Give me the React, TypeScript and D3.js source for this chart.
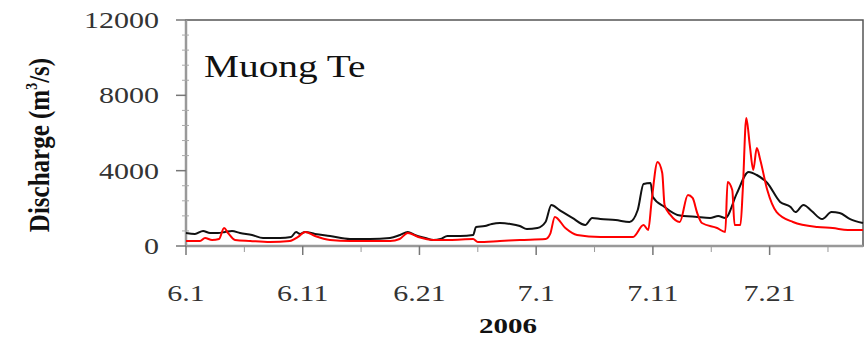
import React from "react";
import * as d3 from "d3";

// Observed (black) series: day offset from 6.1, discharge m3/s
const obsDays = [0, 0.77, 1.46, 2.06, 2.74, 3.34, 3.94, 4.63, 5.66, 6.6, 8.05, 9.0, 9.43, 9.77, 10.2, 11.05, 12.34, 14.05, 15.77, 17.48, 18.34, 19.0, 19.6, 20.5, 21.2, 21.8, 22.4, 23.5, 24.6, 24.85, 25.6, 26.2, 26.9, 27.8, 28.6, 29.2, 30.1, 30.8, 31.3, 32.0, 33.1, 34.2, 34.8, 35.5, 36.8, 38.0, 38.7, 39.2, 39.8, 40.0, 41.0, 42.1, 43.8, 44.9, 45.6, 46.2, 47.2, 48.2, 48.9, 49.8, 50.9, 51.8, 52.2, 52.9, 53.6, 54.5, 55.3, 56.0, 56.9, 58.0];
const obsValues = [690, 640, 800, 690, 690, 745, 800, 690, 585, 425, 425, 480, 745, 640, 745, 640, 530, 370, 370, 425, 585, 745, 585, 425, 320, 370, 530, 530, 585, 1010, 1060, 1170, 1220, 1170, 1060, 900, 955, 1275, 2180, 1910, 1490, 1115, 1490, 1430, 1380, 1275, 1910, 3290, 3345, 2600, 2070, 1650, 1540, 1490, 1590, 1490, 2810, 3930, 3770, 3345, 2340, 2070, 1800, 2180, 1860, 1430, 1800, 1750, 1430, 1220];

// Simulated (red) series
const simDays = [0, 1.2, 1.63, 2.23, 2.83, 3.26, 3.6, 4.2, 5.5, 7.2, 8.9, 9.6, 10.2, 11.05, 12.34, 14.05, 17.5, 18.3, 19.0, 19.9, 21.2, 22.6, 24.6, 25.0, 26.9, 28.6, 30.8, 31.2, 31.6, 32.5, 33.5, 35.5, 38.3, 39.2, 39.6, 39.9, 40.4, 40.8, 41.0, 41.5, 42.3, 43.0, 43.4, 43.8, 44.2, 45.5, 46.2, 46.4, 46.8, 47.0, 47.5, 47.7, 48.0, 48.3, 48.6, 48.9, 49.2, 49.8, 50.6, 52.0, 54.1, 55.4, 56.7, 58.0];
const simValues = [265, 265, 425, 320, 370, 955, 690, 320, 265, 210, 265, 480, 745, 530, 320, 265, 265, 370, 690, 480, 320, 320, 370, 210, 265, 320, 370, 640, 1540, 955, 585, 480, 480, 1115, 850, 2440, 4460, 3880, 2180, 1650, 1275, 2710, 2550, 1750, 1220, 955, 745, 3400, 2970, 1115, 1115, 2970, 6800, 5360, 4040, 5200, 4570, 2970, 1800, 1275, 1010, 955, 850, 850];

const xTickDays = [0, 10, 20, 30, 40, 50];
const xTickLabels = ["6.1", "6.11", "6.21", "7.1", "7.11", "7.21"];
const xMinorDays = [5, 15, 25, 35, 45, 55];
const yTicks = [0, 4000, 8000, 12000];

const FONT = "Liberation Serif, DejaVu Serif, serif";

export default function App() {
  const left = 186, right = 863, top = 20, bottom = 246;
  const x = d3.scaleLinear().domain([0, 58]).range([left, right]);
  const y = d3.scaleLinear().domain([0, 12000]).range([bottom, top]);
  const yMinor = d3.range(0, 12001, 800).filter((v) => v % 4000 !== 0);

  const obsLine = d3.line<number>().x((_, i) => x(obsDays[i])).y((d) => y(d)).curve(d3.curveMonotoneX);
  const simLine = d3.line<number>().x((_, i) => x(simDays[i])).y((d) => y(d)).curve(d3.curveMonotoneX);

  const sx = 1.25;
  const ts = { fontFamily: FONT };

  return (
    <svg width={867} height={337} style={{ position: "absolute", left: 0, top: 0 }}>
      <rect x={0} y={0} width={867} height={337} fill="#fff" />
      <rect x={left} y={top} width={right - left} height={bottom - top} fill="none" stroke="#555" strokeWidth={1.5} />
      <line x1={left} x2={right} y1={bottom} y2={bottom} stroke="#999" strokeWidth={2.5} />
      <line x1={left} x2={left} y1={top} y2={bottom} stroke="#999" strokeWidth={2.5} />
      {yTicks.map((v) => (
        <g key={v}>
          <line x1={left - 10} x2={left} y1={y(v)} y2={y(v)} stroke="#777" strokeWidth={1.5} />
          <text style={ts} transform={`translate(${left - 27},${y(v) + 8}) scale(${sx},1)`} textAnchor="end" fontSize={24} fill="#333">
            {v}
          </text>
        </g>
      ))}
      {yMinor.map((v) => (
        <line key={v} x1={left - 4} x2={left + 3} y1={y(v)} y2={y(v)} stroke="#aaa" strokeWidth={1} />
      ))}
      {xTickDays.map((d, i) => (
        <g key={d}>
          <line x1={x(d)} x2={x(d)} y1={bottom} y2={bottom + 9} stroke="#777" strokeWidth={1.5} />
          <text style={ts} transform={`translate(${x(d)},${bottom + 55}) scale(${sx},1)`} textAnchor="middle" fontSize={24} fill="#333">
            {xTickLabels[i]}
          </text>
        </g>
      ))}
      {xMinorDays.map((d) => (
        <line key={d} x1={x(d)} x2={x(d)} y1={bottom} y2={bottom + 6} stroke="#999" strokeWidth={1} />
      ))}
      <path d={obsLine(obsValues) || ""} fill="none" stroke="#111" strokeWidth={2} strokeLinejoin="round" />
      <path d={simLine(simValues) || ""} fill="none" stroke="#ff0000" strokeWidth={2} strokeLinejoin="round" />
      <text style={ts} transform={`translate(204,77) scale(1.23,1)`} fontSize={32} fill="#111">
        Muong Te
      </text>
      <text style={ts} transform={`translate(508,333) scale(1.32,1)`} textAnchor="middle" fontSize={22} fontWeight="bold" fill="#111">
        2006
      </text>
      <text style={ts} transform={`translate(49,145) rotate(-90) scale(1,1.2)`} textAnchor="middle" fontSize={25} fontWeight="bold" fill="#111">
        <tspan>Discharge (m</tspan>
        <tspan fontSize={14} dy={-10}>3</tspan>
        <tspan dy={10}>/s)</tspan>
      </text>
    </svg>
  );
}
